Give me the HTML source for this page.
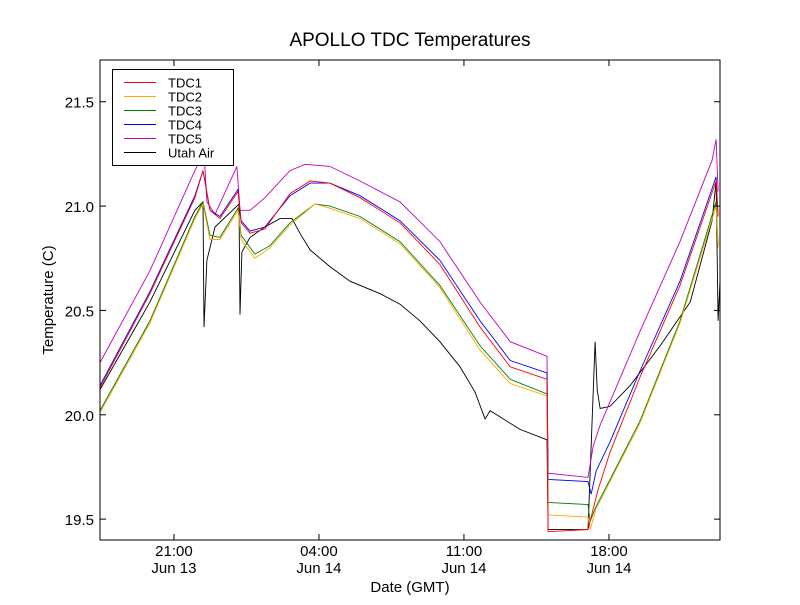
<!DOCTYPE html>
<html><head><meta charset="utf-8"><style>
body{margin:0;background:#fff;}
svg text{font-family:"Liberation Sans","DejaVu Sans",sans-serif;}
</style></head><body>
<svg id="chart" width="800" height="600" viewBox="0 0 800 600" xmlns="http://www.w3.org/2000/svg">
<rect width="800" height="600" fill="#fff"/>
<text x="410" y="46" font-size="19" text-anchor="middle">APOLLO TDC Temperatures</text>
<text x="410" y="592" font-size="15" text-anchor="middle">Date (GMT)</text>
<text x="53" y="300" font-size="15" text-anchor="middle" transform="rotate(-90 53 300)">Temperature (C)</text>
<g id="series"></g>
<g id="axes"></g>
<rect x="100" y="60" width="620" height="480" fill="none" stroke="#000" stroke-width="1"/>
<g id="legend"></g>
</svg>
<script>
const xMin = 17.43, xMax = 47.36, yMin = 19.4, yMax = 21.7;
const yTicks = [19.5, 20.0, 20.5, 21.0, 21.5];
const xTicks = [21, 28, 35, 42];
const xTickTimes = ["21:00", "04:00", "11:00", "18:00"];
const xTickDates = ["Jun 13", "Jun 14", "Jun 14", "Jun 14"];
const seriesNames = ["TDC1", "TDC2", "TDC3", "TDC4", "TDC5", "Utah Air"];
const seriesColors = ["#ff0000", "#ffa500", "#008000", "#0000ff", "#bf00bf", "#000000"];

const tdc4Times = [17.43,19.84,22.01,22.40,22.74,23.22,24.09,24.24,24.67,25.39,26.60,27.57,28.53,29.98,31.91,33.84,35.78,37.23,39.01,39.06,40.99,41.14,41.38,42.05,43.5,45.43,47.17,47.27];
const tdc4Values = [20.14,20.59,21.05,21.17,20.98,20.95,21.08,20.93,20.88,20.90,21.05,21.11,21.11,21.05,20.93,20.74,20.45,20.26,20.20,19.69,19.68,19.62,19.73,19.87,20.21,20.64,21.14,20.95];
const tdc1Times = [17.43,19.84,22.01,22.40,22.74,23.22,24.09,24.24,24.67,25.39,26.60,27.57,28.53,29.98,31.91,33.84,35.78,37.23,39.01,39.06,40.99,41.47,42.05,43.5,45.43,47.17,47.27];
const tdc1Values = [20.13,20.58,21.04,21.17,20.98,20.94,21.07,20.92,20.87,20.89,21.06,21.12,21.11,21.04,20.92,20.72,20.42,20.23,20.17,19.44,19.45,19.64,19.82,20.18,20.62,21.12,20.95];
const tdc3Times = [17.43,19.84,22.01,22.40,22.74,23.22,24.09,24.24,24.91,25.63,26.60,27.81,28.53,29.98,31.91,33.84,35.78,37.23,39.01,39.06,40.99,41.09,41.38,43.5,45.43,47.17,47.27];
const tdc3Values = [20.02,20.45,20.95,21.02,20.86,20.85,20.99,20.86,20.77,20.81,20.92,21.01,21.0,20.95,20.83,20.62,20.33,20.17,20.10,19.58,19.57,19.49,19.56,19.97,20.45,21.02,20.81];
const tdc2Times = [17.43,19.84,22.01,22.40,22.74,23.22,24.09,24.24,24.91,25.63,26.60,27.81,28.53,29.98,31.91,33.84,35.78,37.23,39.01,39.06,40.99,41.09,41.38,43.5,45.43,47.17,47.27];
const tdc2Values = [20.01,20.44,20.94,21.01,20.84,20.84,20.98,20.84,20.75,20.80,20.91,21.01,20.99,20.94,20.82,20.61,20.31,20.15,20.09,19.52,19.51,19.45,19.55,19.96,20.44,21.0,20.8];
const tdc5Times = [17.43,19.84,22.01,22.45,22.59,22.98,24.04,24.19,24.67,25.39,26.60,27.33,28.53,29.98,31.91,33.84,35.78,37.23,39.01,39.06,40.99,41.24,41.57,43.5,45.43,46.98,47.17,47.27];
const tdc5Values = [20.25,20.69,21.17,21.26,21.02,20.96,21.19,20.98,20.98,21.04,21.17,21.20,21.19,21.12,21.02,20.83,20.54,20.35,20.28,19.72,19.70,19.85,19.95,20.40,20.83,21.22,21.32,21.07];
const airTimes = [17.43,19.84,22.01,22.40,22.45,22.59,22.98,24.04,24.14,24.19,24.28,24.67,25.39,26.12,26.70,27.08,27.57,28.53,29.50,30.95,31.91,32.88,33.84,34.81,35.53,36.02,36.26,36.74,37.71,39.01,39.06,40.99,41.33,41.43,41.57,42.05,43.02,44.47,45.92,46.98,47.17,47.27,47.36];
const airValues = [20.12,20.54,20.98,21.02,20.42,20.74,20.90,21.0,21.01,20.48,20.78,20.85,20.90,20.94,20.94,20.87,20.79,20.71,20.64,20.58,20.53,20.45,20.35,20.23,20.11,19.98,20.02,19.99,19.93,19.88,19.45,19.45,20.35,20.12,20.03,20.04,20.14,20.33,20.54,20.93,21.12,20.45,20.64];

const L = 100, R = 720, T = 60, B = 540;
function xs(h){ return L + (h - xMin) / (xMax - xMin) * (R - L); }
function ys(v){ return B - (v - yMin) / (yMax - yMin) * (B - T); }
const NS = "http://www.w3.org/2000/svg";
function mk(tag, attrs, parent){ const e = document.createElementNS(NS, tag); for (const k in attrs) e.setAttribute(k, attrs[k]); parent.appendChild(e); return e; }

const seriesData = [[tdc1Times,tdc1Values],[tdc2Times,tdc2Values],[tdc3Times,tdc3Values],[tdc4Times,tdc4Values],[tdc5Times,tdc5Values],[airTimes,airValues]];
const sg = document.getElementById('series');
const drawOrder = [5,4,3,2,1,0];
drawOrder.forEach(i => {
  const [ts, vs] = seriesData[i];
  const pts = ts.map((t, j) => xs(t).toFixed(1) + "," + ys(vs[j]).toFixed(1)).join(" ");
  const pl = mk('polyline', {points: pts, fill: "none", stroke: seriesColors[i], "stroke-width": 0.9}, sg);
  
  
});

const ag = document.getElementById('axes');
yTicks.forEach(v => {
  const y = ys(v);
  mk('line', {x1: L, x2: L + 6, y1: y, y2: y, stroke: "#000"}, ag);
  mk('line', {x1: R - 6, x2: R, y1: y, y2: y, stroke: "#000"}, ag);
  const t = mk('text', {x: L - 6, y: y + 6, "font-size": 15, "text-anchor": "end"}, ag);
  t.textContent = v.toFixed(1);
  
  
});
xTicks.forEach((h, i) => {
  const x = xs(h);
  mk('line', {x1: x, x2: x, y1: B, y2: B - 6, stroke: "#000"}, ag);
  mk('line', {x1: x, x2: x, y1: T, y2: T + 6, stroke: "#000"}, ag);
  const t1 = mk('text', {x: x, y: 556, "font-size": 15, "text-anchor": "middle"}, ag);
  t1.textContent = xTickTimes[i];
  
  
  const t2 = mk('text', {x: x, y: 573, "font-size": 15, "text-anchor": "middle"}, ag);
  t2.textContent = xTickDates[i];
  
  
});

const lg = document.getElementById('legend');
mk('rect', {x: 112.5, y: 69.5, width: 121, height: 96, fill: "#fff", stroke: "#000"}, lg);
seriesNames.forEach((n, i) => {
  const y = 82.5 + i * 14;
  const ln = mk('line', {x1: 124, x2: 156, y1: y, y2: y, stroke: seriesColors[i], "stroke-width": 1}, lg);
  
  
  const t = mk('text', {x: 168, y: y + 5, "font-size": 13}, lg);
  t.textContent = n;
  
  
});
</script>
</body></html>
